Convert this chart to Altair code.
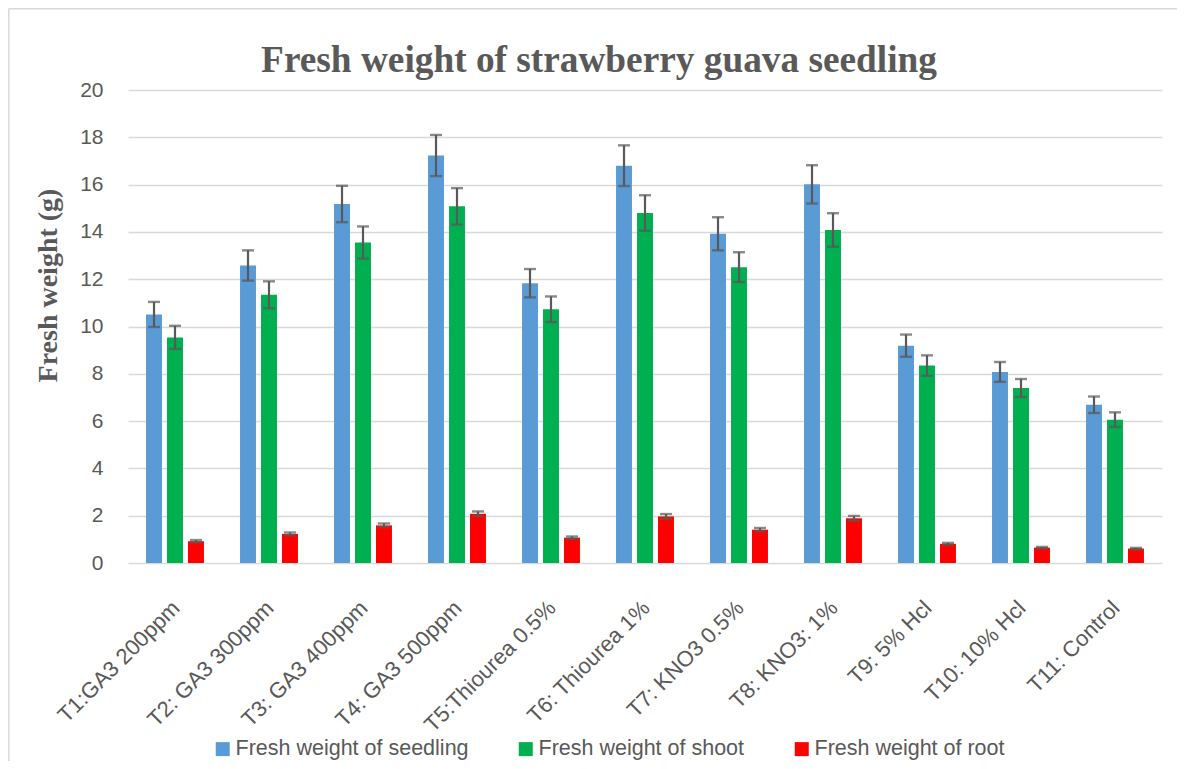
import altair as alt
import pandas as pd

treatments = ["T1:GA3 200ppm", "T2: GA3 300ppm", "T3: GA3 400ppm", "T4: GA3 500ppm",
              "T5:Thiourea 0.5%", "T6: Thiourea 1%", "T7: KNO3 0.5%", "T8: KNO3: 1%",
              "T9: 5% Hcl", "T10: 10% Hcl", "T11: Control"]
series = ["Fresh weight of seedling", "Fresh weight of shoot", "Fresh weight of root"]
seedling = [10.51, 12.58, 15.18, 17.23, 11.83, 16.80, 13.92, 16.01, 9.19, 8.08, 6.69]
seedling_err = [0.53, 0.64, 0.77, 0.87, 0.60, 0.86, 0.70, 0.81, 0.47, 0.42, 0.35]
shoot = [9.54, 11.34, 13.55, 15.08, 10.73, 14.80, 12.51, 14.08, 8.35, 7.40, 6.06]
shoot_err = [0.49, 0.57, 0.68, 0.77, 0.54, 0.75, 0.63, 0.71, 0.43, 0.38, 0.31]
root = [0.92, 1.23, 1.59, 2.08, 1.07, 1.97, 1.41, 1.89, 0.81, 0.65, 0.61]
root_err = [0.05, 0.06, 0.08, 0.10, 0.05, 0.10, 0.07, 0.10, 0.04, 0.03, 0.03]
colors = ["#5B9BD5", "#00B050", "#FF0000"]
y_ticks = [0, 2, 4, 6, 8, 10, 12, 14, 16, 18, 20]

rows = []
for s, vals, errs in zip(series, [seedling, shoot, root], [seedling_err, shoot_err, root_err]):
    for t, v, e in zip(treatments, vals, errs):
        rows.append({"treatment": t, "series": s, "value": v, "lo": v - e, "hi": v + e})
df = pd.DataFrame(rows)

TEXT = "#595959"
SANS = "Liberation Sans"

x_enc = alt.X("treatment:N", sort=treatments,
              scale=alt.Scale(paddingInner=0.33, paddingOuter=0.165),
              axis=alt.Axis(title=None, labelAngle=-45, labelAlign="right", labelBaseline="top",
                            labelPadding=34, labelOffset=-6, ticks=False, domain=False, grid=False,
                            labelFont=SANS, labelFontSize=22, labelColor=TEXT, labelLimit=400))
xo_enc = alt.XOffset("series:N", sort=series,
                     scale=alt.Scale(paddingInner=0.24, paddingOuter=0.12))

base = alt.Chart(df)

bars = base.mark_bar().encode(
    x=x_enc,
    xOffset=xo_enc,
    y=alt.Y("value:Q", scale=alt.Scale(domain=[0, 20]),
            axis=alt.Axis(values=y_ticks, title="Fresh weight (g)", ticks=False, domain=False,
                          labelPadding=25, labelFont=SANS, labelFontSize=21, labelColor=TEXT,
                          gridColor="#D9D9D9", gridWidth=1.5,
                          titleFont="Liberation Serif", titleFontSize=28, titleFontWeight="bold",
                          titleColor=TEXT, titleAngle=270, titleAlign="center",
                          titleBaseline="alphabetic", titleX=-72, titleY=195)),
    color=alt.Color("series:N", sort=series,
                    scale=alt.Scale(domain=series, range=colors),
                    legend=alt.Legend(title=None, orient="none", legendX=84, legendY=648,
                                      direction="horizontal", symbolType="square",
                                      symbolSize=196, symbolStrokeWidth=0, labelFont=SANS,
                                      labelFontSize=21.5, labelColor=TEXT, labelOffset=2,
                                      columnPadding=46, padding=0, labelLimit=400)),
)

rules = base.mark_rule(color="#595959", strokeWidth=2.2).encode(
    x=alt.X("treatment:N", sort=treatments),
    xOffset=alt.XOffset("series:N", sort=series),
    y="lo:Q",
    y2="hi:Q",
)

caps_hi = base.mark_tick(color="#595959", thickness=2.4, size=12).encode(
    x=alt.X("treatment:N", sort=treatments),
    xOffset=alt.XOffset("series:N", sort=series),
    y="hi:Q",
)
caps_lo = base.mark_tick(color="#595959", thickness=2.4, size=12).encode(
    x=alt.X("treatment:N", sort=treatments),
    xOffset=alt.XOffset("series:N", sort=series),
    y="lo:Q",
)

# light outer chart-area frame (left and top edges)
frame_left = alt.Chart().mark_rule(color="#D9D9D9", strokeWidth=1.5).encode(
    x=alt.value(-119.2), y=alt.value(-81.2), y2=alt.value(671))
frame_top = alt.Chart().mark_rule(color="#D9D9D9", strokeWidth=1.5).encode(
    x=alt.value(-119.2), x2=alt.value(1049), y=alt.value(-81.2))

chart = alt.layer(frame_left, frame_top, bars, rules, caps_hi, caps_lo).properties(
    width=1034,
    height=473,
    padding={"left": 120, "top": 82, "right": 15, "bottom": 198},
    autosize=alt.AutoSizeParams(type="none"),
    title=alt.Title("Fresh weight of strawberry guava seedling", font="Liberation Serif",
                    fontSize=37.3, fontWeight="bold", color=TEXT, anchor="middle",
                    dx=-46, dy=106, offset=5, baseline="alphabetic"),
).configure_view(stroke=None)

chart.save("out.html", embed_options={"renderer": "svg", "actions": False})
